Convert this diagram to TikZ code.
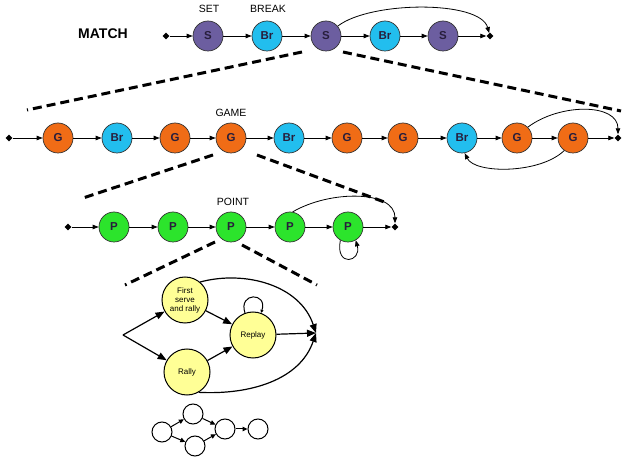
\documentclass[tikz,border=0pt]{standalone}
\usepackage{fontspec}
\setmainfont{Liberation Sans}
\usetikzlibrary{arrows.meta,shapes.geometric}
\definecolor{scol}{RGB}{108,94,160}
\definecolor{bcol}{RGB}{34,190,238}
\definecolor{gcol}{RGB}{240,108,22}
\definecolor{pcol}{RGB}{44,228,44}
\definecolor{ycol}{RGB}{255,255,150}
\definecolor{tcol}{RGB}{40,30,60}
\begin{document}
\begin{tikzpicture}[x=1pt,y=-1pt,
  st/.style={circle,draw=black!80,line width=0.7pt,minimum size=30pt,inner sep=0pt,
    font=\bfseries\fontsize{11.5}{12}\selectfont,text=tcol},
  snode/.style={st,fill=scol},
  bnode/.style={st,fill=bcol},
  gnode/.style={st,fill=gcol},
  pnode/.style={st,fill=pcol},
  dm/.style={diamond,fill=black,inner sep=0pt,minimum size=7pt},
  ar/.style={-{Triangle[length=6pt,width=4.5pt]},line width=0.8pt},
  dsh/.style={line width=3pt,dash pattern=on 9pt off 5pt},
  lbl/.style={font=\fontsize{10.5}{11}\selectfont},
  ynode/.style={circle,draw=black,line width=1pt,fill=ycol,minimum size=46pt,inner sep=0pt,
    align=center,font=\fontsize{8}{9}\selectfont},
  big/.style={-{Triangle[length=9pt,width=7pt]},line width=1.2pt},
  small/.style={circle,draw=black,line width=1pt,fill=white,minimum size=20pt,inner sep=0pt},
  sar/.style={-{Triangle[length=5pt,width=4.5pt]},line width=1pt}
]
\useasboundingbox (0,0) rectangle (622,465);

% MATCH row
\node[font=\bfseries\fontsize{14}{14}\selectfont] (match) at (103,34) {MATCH};
\node[dm] (ms) at (166,36) {};
\node[snode] (s1) at (208,36) {S};
\node[bnode] (b1) at (267,36) {Br};
\node[snode] (s2) at (326,36) {S};
\node[bnode] (b2) at (385,36) {Br};
\node[snode] (s3) at (443,36) {S};
\node[dm] (me) at (490,36) {};
\node[lbl] (setl) at (209,9) {SET};
\node[lbl] (brkl) at (268,9) {BREAK};
\draw[ar] (ms) -- (s1);
\draw[ar] (s1) -- (b1);
\draw[ar] (b1) -- (s2);
\draw[ar] (s2) -- (b2);
\draw[ar] (b2) -- (s3);
\draw[ar] (s3) -- (me);
\draw[ar] (s2.40) .. controls (370,1) and (480,0) .. (me);

% zoom dashes 1
\coordinate (d1a) at (302,52); \coordinate (d1b) at (27,110);
\coordinate (d2a) at (343,52); \coordinate (d2b) at (621,111);
\draw[dsh] (d1a) -- (d1b);
\draw[dsh] (d2a) -- (d2b);

% GAME row
\node[lbl] (gamel) at (231,113) {GAME};
\node[dm] (gs) at (9,138) {};
\node[gnode] (g1) at (58,138) {G};
\node[bnode] (gb1) at (117,138) {Br};
\node[gnode] (g2) at (175,138) {G};
\node[gnode] (g3) at (231,138) {G};
\node[bnode] (gb2) at (289,138) {Br};
\node[gnode] (g4) at (347,138) {G};
\node[gnode] (g5) at (403,138) {G};
\node[bnode] (gb3) at (462,138) {Br};
\node[gnode] (g6) at (517,138) {G};
\node[gnode] (g7) at (573,138) {G};
\node[dm] (ge) at (618,138) {};
\draw[ar] (gs) -- (g1);
\draw[ar] (g1) -- (gb1);
\draw[ar] (gb1) -- (g2);
\draw[ar] (g2) -- (g3);
\draw[ar] (g3) -- (gb2);
\draw[ar] (gb2) -- (g4);
\draw[ar] (g4) -- (g5);
\draw[ar] (g5) -- (gb3);
\draw[ar] (gb3) -- (g6);
\draw[ar] (g6) -- (g7);
\draw[ar] (g7) -- (ge);
\draw[ar] (g6.45) .. controls (560,103) and (618,103) .. (ge);
\draw[ar] (g7.235) .. controls (540,174) and (475,174) .. (gb3.280);

% zoom dashes 2
\coordinate (d3a) at (213,155); \coordinate (d3b) at (83,198);
\coordinate (d4a) at (257,155); \coordinate (d4b) at (387,203);
\draw[dsh] (d3a) -- (d3b);
\draw[dsh] (d4a) -- (d4b);

% POINT row
\node[lbl] (pointl) at (233,202) {POINT};
\node[dm] (ps) at (68,227) {};
\node[pnode] (p1) at (114,227) {P};
\node[pnode] (p2) at (173,227) {P};
\node[pnode] (p3) at (231,227) {P};
\node[pnode] (p4) at (290,227) {P};
\node[pnode] (p5) at (348,227) {P};
\node[dm] (pe) at (395,227) {};
\draw[ar] (ps) -- (p1);
\draw[ar] (p1) -- (p2);
\draw[ar] (p2) -- (p3);
\draw[ar] (p3) -- (p4);
\draw[ar] (p4) -- (p5);
\draw[ar] (p5) -- (pe);
\draw[ar] (p4.80) .. controls (330,190) and (395,190) .. (pe);
\draw[ar] (p5.240) .. controls (335,268) and (362,262) .. (p5.300);

% zoom dashes 3
\coordinate (d5a) at (215,242); \coordinate (d5b) at (125,285);
\coordinate (d6a) at (242,245); \coordinate (d6b) at (317,285);
\draw[dsh] (d5a) -- (d5b);
\draw[dsh] (d6a) -- (d6b);

% point detail
\node[ynode] (fs) at (185,300) {First\\serve\\and rally};
\node[ynode] (rp) at (253,335) {Replay};
\node[ynode] (ra) at (187,372) {Rally};
\coordinate (split) at (123,335);
\coordinate (merge) at (316,333);
\draw[big] (split) -- (fs);
\draw[big] (split) -- (ra);
\draw[big] (fs) -- (rp);
\draw[big] (ra) -- (rp);
\draw[big] (rp) -- (merge);
\draw[big] (fs.50) .. controls (245,270) and (300,285) .. (merge);
\draw[big] (ra.-60) .. controls (250,395) and (300,380) .. (merge);
\draw[-{Triangle[length=3pt,width=3pt]},line width=1pt] (rp.110) .. controls (238,292) and (268,292) .. (rp.70);

% small graph
\node[small] (c1) at (162,432) {};
\node[small] (c2) at (193,414) {};
\node[small] (c3) at (195,446) {};
\node[small] (c4) at (225,429) {};
\node[small] (c5) at (258,429) {};
\draw[sar] (c1) -- (c2);
\draw[sar] (c1) -- (c3);
\draw[sar] (c2) -- (c4);
\draw[sar] (c3) -- (c4);
\draw[sar] (c4) -- (c5);
\end{tikzpicture}
\end{document}
